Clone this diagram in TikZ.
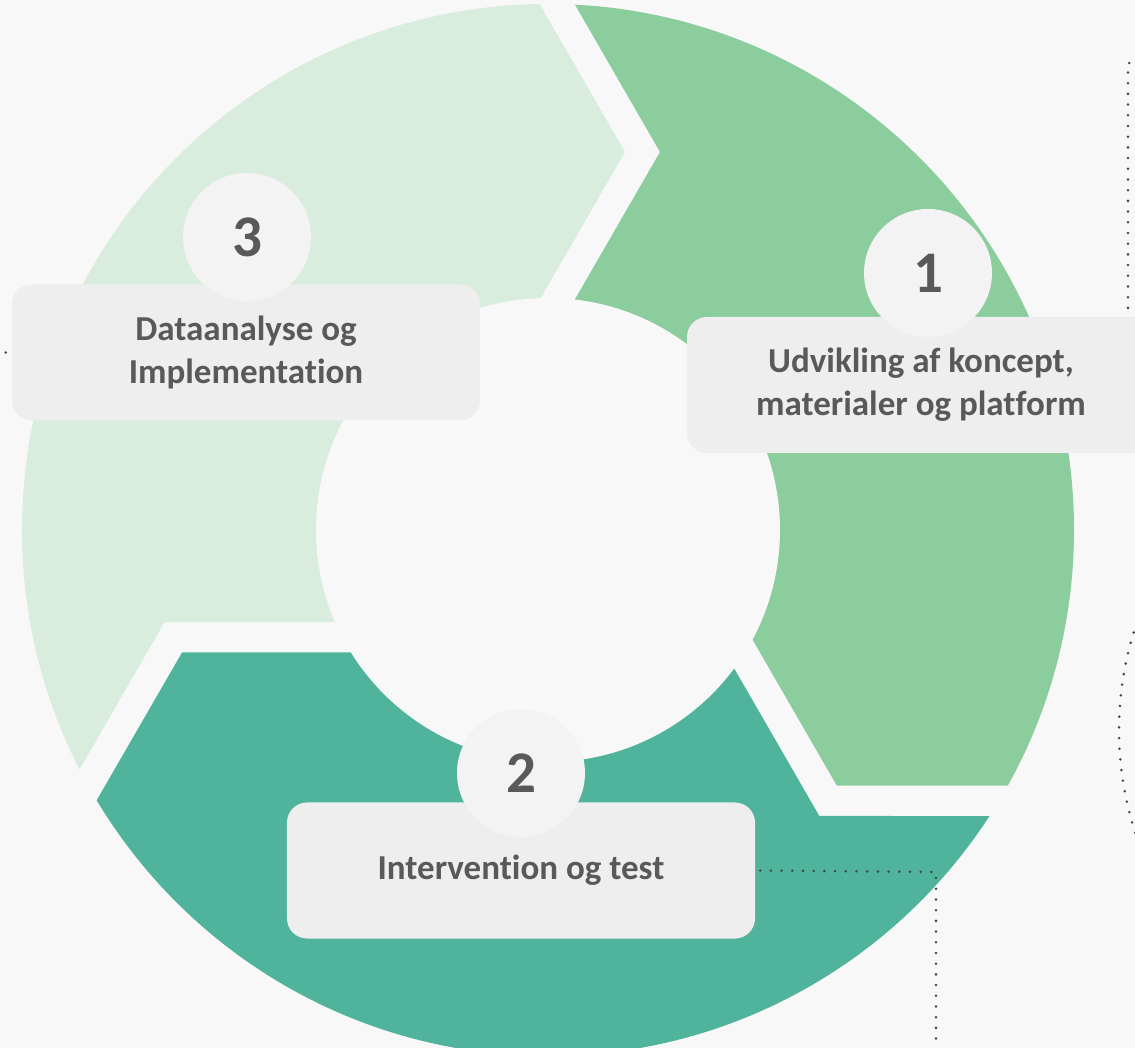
\documentclass[tikz,border=0pt]{standalone}
\usepackage{fontspec}
\setmainfont{Carlito}[Ligatures=NoCommon]
\definecolor{bgcol}{HTML}{F8F8F8}
\definecolor{leafpale}{HTML}{D9EDDF}
\definecolor{leafmid}{HTML}{8BCD9C}
\definecolor{leafdeep}{HTML}{50B49C}
\definecolor{boxfill}{HTML}{EEEEEE}
\definecolor{discfill}{HTML}{F3F3F3}
\definecolor{textgray}{HTML}{595959}
\definecolor{dotgray}{HTML}{454545}
\begin{document}
\begin{tikzpicture}
[x=1pt,y=1pt,
  boxdecorate/.style={shape=rectangle,rounded corners=20pt,fill=boxfill,
    minimum width=468pt,minimum height=136pt,align=center,text=textgray,
    font=\fontsize{35}{43}\selectfont\bfseries},%
  numberdecorate/.style={shape=circle,fill=discfill,minimum size=128pt,
    inner sep=0pt,text=textgray,font=\fontsize{59}{59}\selectfont\bfseries},%
  dotdecorate/.style={draw=dotgray,line width=2.8pt,line cap=round,
    dash pattern=on 0pt off 10.7pt}]
%% background
\useasboundingbox[fill=bgcol] (-548,-518) rectangle (587,530);
%% ring segments
\begin{scope}
\clip (0,0) circle (526);
\foreach \segcolor/\turn in {leafpale/0, leafmid/-120, leafdeep/-240} {
  \fill[\segcolor,rotate=\turn] (0,0) -- (-33,187.5) -- (77,378) -- (-53,603.2)
    -- (120:700) -- (150:700) -- (180:700)
    -- ([rotate=120]-18,603.2) -- ([rotate=120]112,378)
    -- ([rotate=120]2,187.5) -- cycle;
}
\end{scope}
\fill[bgcol] (0,0) circle (232);
%% dotted lines
\coordinate (topcorner) at (580,467);
\coordinate (bendpoint) at (388,-342);
\draw[dotdecorate] (580,190) -- (topcorner) -- ++(40,0);
\draw[dotdecorate] (903,-200) ++(150:332) arc[start angle=150,end angle=210,radius=332];
%% boxes
\foreach \nodename/\x/\y/\labeltext in {box3/-302/177.5/{Dataanalyse og\\Implementation},
  box1/373/145/{Udvikling af koncept,\\materialer og platform},
  box2/-27/-340.5/{Intervention og test}} {
  \node (\nodename) at (\x,\y) [boxdecorate] {\labeltext};
}
%% numbers
\foreach \nodename/\x/\y/\digit in {num3/-301/293/3, num1/380/257/1, num2/-27/-243/2} {
  \node (\nodename) at (\x,\y) [numberdecorate] {\digit};
}
%% connectors
\draw[dotdecorate] ([xshift=5pt]box2.east) -- (bendpoint) -- ++(0,-200);
\draw[dotdecorate] ([xshift=-6pt]box3.west) -- ++(-30,0);
\end{tikzpicture}
\end{document}
